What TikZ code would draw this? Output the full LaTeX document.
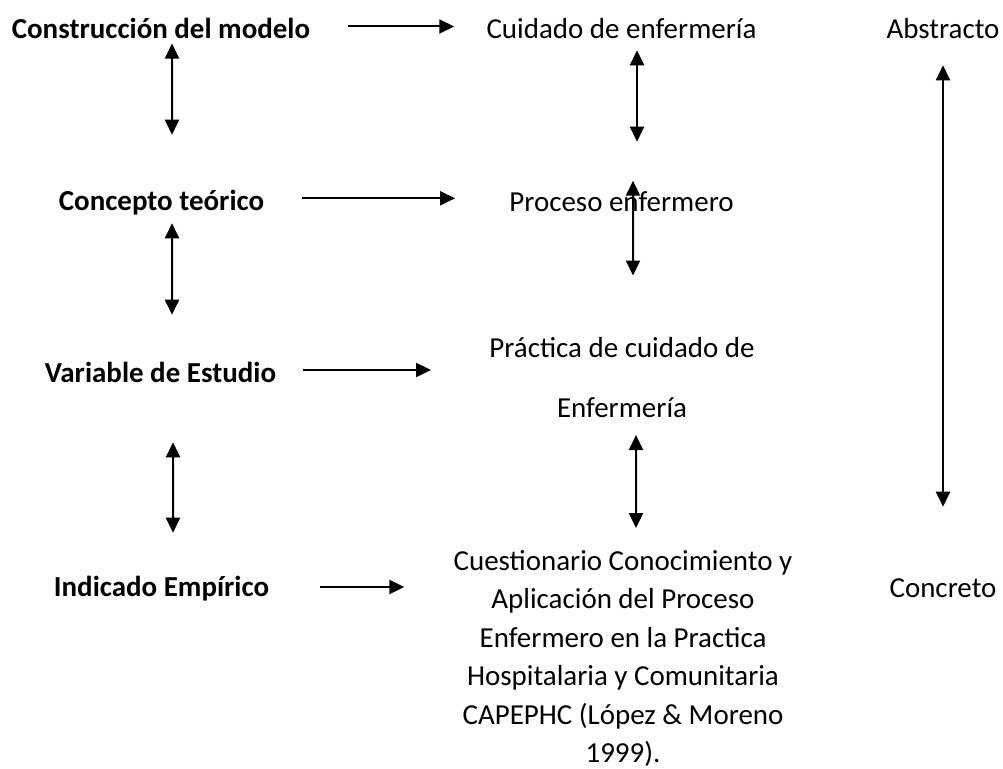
\documentclass[tikz,border=0pt]{standalone}
\usepackage{fontspec}
\setmainfont{Carlito}
\usetikzlibrary{arrows.meta}
\tikzset{
    concept/.style = {inner sep=0pt, text height=15.45pt, text depth=5.15pt, font=\fontsize{20.6}{24.7}\selectfont\bfseries},
    item/.style = {inner sep=0pt, text height=15.45pt, text depth=5.15pt, font=\fontsize{20.6}{24.7}\selectfont},
    block/.style = {inner sep=0pt, align=center},
    arrow/.style = {line width=0.05cm, -{Triangle[length=0.375cm, width=0.35cm]}},
    dblarrow/.style = {line width=0.05cm, {Triangle[length=0.375cm, width=0.35cm]}-{Triangle[length=0.375cm, width=0.35cm]}}
}
\begin{document}
\begin{tikzpicture}[x=0.025cm, y=-0.025cm]
\useasboundingbox (0,0) rectangle (1003,768);
\node (cons) [concept] at (161,31.25) {Construcción del modelo};
\node (conc) [concept] at (161.5,203.25) {Concepto teórico};
\node (vari) [concept] at (160.5,375.25) {Variable de Estudio};
\node (indi) [concept] at (161.5,589.25) {Indicado Empírico};
\node (cuid) [item] at (621.5,31.25) {Cuidado de enfermería};
\node (proc) [item] at (621.5,204.25) {Proceso enfermero};
\node (prac) [block, font=\fontsize{20.6}{42.7}\selectfont] at (622,377.3) {Práctica de cuidado de\\Enfermería};
\node (cues) [block, font=\fontsize{20.6}{27.4}\selectfont] at (623,658.4) {Cuestionario Conocimiento y\\Aplicación del Proceso\\Enfermero en la Practica\\Hospitalaria y Comunitaria\\CAPEPHC (López \& Moreno\\1999).};
\node (abst) [item] at (943,31.25) {Abstracto};
\node (concr) [item] at (943,590.25) {Concreto};

\draw [arrow, transform canvas={yshift=0.119cm}, shorten <=0.95cm, shorten >=0.8cm] (cons.east) -- (cons.east -| cuid.west);
\draw [arrow, transform canvas={yshift=0.124cm}, shorten <=0.95cm, shorten >=1.35cm] (conc.east) -- (conc.east -| proc.west);
\draw [arrow, transform canvas={yshift=0.131cm}, shorten <=0.675cm, shorten >=1.45cm] (vari.east) -- (vari.east -| prac.west);
\draw [arrow, transform canvas={yshift=0.056cm}, shorten <=1.275cm, shorten >=1.225cm] (indi.east) -- (indi.east -| cues.west);

\draw [dblarrow, shorten <=-0.0625cm, shorten >=1.34375cm] ([xshift=0.275cm]cons.south) -- ([xshift=0.2625cm]conc.north);
\draw [dblarrow, shorten <=0.13125cm, shorten >=1.14375cm] ([xshift=0.2625cm]conc.south) -- ([xshift=0.2875cm]vari.north);
\draw [dblarrow, shorten <=1.30625cm, shorten >=1.04375cm] ([xshift=0.3125cm]vari.south) -- ([xshift=0.2875cm]indi.north);

\draw [dblarrow, shorten <=0.10625cm, shorten >=1.19375cm] ([xshift=0.3875cm]cuid.south) -- ([xshift=0.3875cm]proc.north);
\draw [dblarrow, shorten <=-0.21875cm, shorten >=1.5325cm] ([xshift=0.2875cm]proc.north) -- ([xshift=0.275cm]prac.north);
\draw [dblarrow, shorten <=0.43125cm, shorten >=0.5425cm] ([xshift=0.35cm]prac.south) -- ([xshift=0.325cm]cues.north);

\draw [dblarrow, shorten <=0.48125cm, shorten >=1.71875cm] (abst.south) -- (concr.north);
\end{tikzpicture}
\end{document}
